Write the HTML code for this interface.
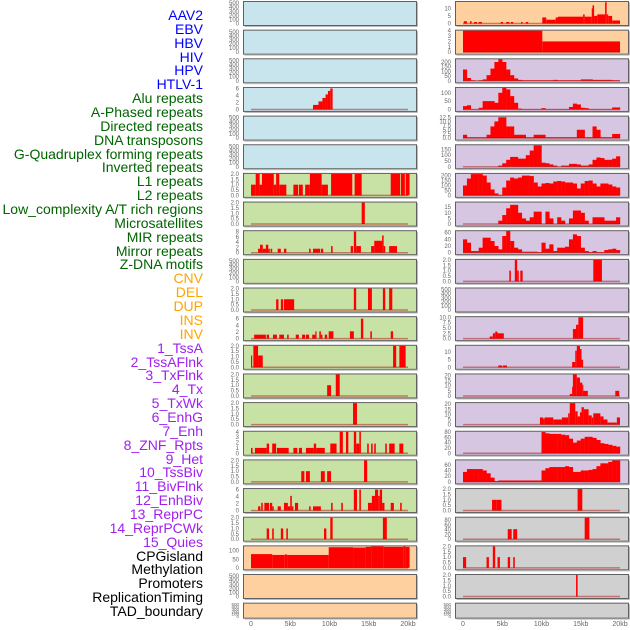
<!DOCTYPE html>
<html><head><meta charset="utf-8">
<style>
html,body{margin:0;padding:0;background:#fff;}
#wrap{position:relative;width:630px;height:630px;overflow:hidden;font-family:"Liberation Sans",sans-serif;}
.lbl{position:absolute;right:427px;font-size:14px;line-height:14px;white-space:nowrap;}
svg{position:absolute;left:0;top:0;}
</style></head>
<body>
<div id="wrap">
<div id="labels"></div>
<svg id="chart" width="630" height="630"></svg>
</div>
<script>
// ---- feature labels ----
const labelNames = ["AAV2","EBV","HBV","HIV","HPV","HTLV-1","Alu repeats","A-Phased repeats","Directed repeats","DNA transposons","G-Quadruplex forming repeats","Inverted repeats","L1 repeats","L2 repeats","Low_complexity A/T rich regions","Microsatellites","MIR repeats","Mirror repeats","Z-DNA motifs","CNV","DEL","DUP","INS","INV","1_TssA","2_TssAFlnk","3_TxFlnk","4_Tx","5_TxWk","6_EnhG","7_Enh","8_ZNF_Rpts","9_Het","10_TssBiv","11_BivFlnk","12_EnhBiv","13_ReprPC","14_ReprPCWk","15_Quies","CPGisland","Methylation","Promoters","ReplicationTiming","TAD_boundary"];
const labelGroups = [6,13,5,15,5];
const groupColors = ["#0000ff","#006400","#ffa500","#a020f0","#000000"];

// ---- x axis ----
const xTicks = [0,5,10,15,20];
const xTickLabels = ["0","5kb","10kb","15kb","20kb"];

// ---- tick label sets ----
const ticksEmpty = [0,100,200,300,400,500];
const ticks2 = [0,0.5,1,1.5,2];
const ticks2lbl = ["0.0","0.5","1.0","1.5","2.0"];

// ---- left column series: segments [startKb, endKb, value] ----
const L3_alu = [[7.9,8.6,1.3],[8.6,9.1,2.3],[9.1,9.5,3.3],[9.5,9.8,4.3],[9.8,10.1,5.3],[10.1,10.4,6]];
const L6_l1 = [[0,0.6,1],[0.6,1.1,2],[1.1,1.4,1],[1.4,2.9,2],[2.9,3.2,1],[3.2,3.6,2],[3.6,4.5,1],[5.4,6.0,1],[6.1,6.6,1],[6.9,7.5,1],[7.5,9.0,2],[9.0,9.8,1],[10.2,12.9,2],[13.2,14.1,2],[17.8,19.0,2],[19.1,19.6,2],[19.7,20.2,2]];
const L7_seg = [[14.1,14.5,2]];
const L8_seg = [[0.9,1.15,1.5],[1.15,1.5,3],[1.5,1.9,1.5],[1.9,2.2,3],[2.2,2.4,1.5],[2.5,2.7,1.5],[3.4,3.8,1.5],[4.2,4.5,1.5],[7.4,7.6,1.5],[7.9,8.8,1.5],[8.9,9.2,1.5],[10.2,10.4,2.5],[12.7,13.0,2.5],[13.1,13.4,8],[13.4,14.0,2.5],[15.3,15.7,2.5],[15.7,16.7,4.5],[16.7,16.9,6.5],[16.9,17.1,2.5],[17.6,18.6,2.5]];
const L10_seg = [[3.2,3.5,1],[3.8,4.1,1],[4.2,5.5,1],[13.1,13.4,2],[14.9,15.4,2],[16.8,17.1,2],[17.6,18.0,2]];
const L11_seg = [[0.4,1.9,1.2],[2.0,2.3,1.2],[2.8,3.3,1.2],[3.6,4.2,1.2],[4.6,4.8,1.2],[5.7,6.1,1.2],[6.5,6.9,1.2],[7.0,7.4,1.2],[7.8,8.2,1.2],[8.2,8.35,2.2],[8.7,8.9,2.2],[8.9,9.1,1.2],[9.4,9.7,1.2],[9.9,10.5,2.2],[12.6,13.1,2.2],[14.0,14.3,6],[15.2,15.4,2.2],[17.8,18.1,2.2]];
const L12_seg = [[0,0.15,1.1],[0.3,0.9,2],[0.9,1.5,1.1],[18.1,18.5,2],[18.9,19.7,2]];
const L13_seg = [[9.7,10.2,1],[10.8,11.3,2]];
const L14_seg = [[13.0,13.5,2]];
const L15_seg = [[0,0.2,1],[0.5,2.0,1],[2.0,2.3,1.8],[2.7,3.2,1.8],[3.3,4.8,1],[5.4,5.9,1],[6.1,6.5,1],[7.0,8.0,1],[8.0,8.3,1.8],[8.3,9.4,1],[10.1,10.9,1.8],[11.3,11.7,4],[12.1,12.4,4],[13.1,13.4,4],[13.4,13.8,1.8],[13.8,14.0,4],[14.8,15.0,1.8],[15.3,15.5,1.8],[15.7,15.9,1.8],[17.1,17.3,1.8],[17.6,18.3,1.8],[18.9,19.4,1.8]];
const L16_seg = [[6.4,6.8,1],[7.0,7.5,1],[8.9,9.4,1],[9.7,10.2,1],[14.4,14.8,2]];
const L17_seg = [[0.9,1.2,1.2],[1.3,1.5,2.2],[1.7,2.3,2.2],[2.4,2.7,2.2],[2.7,2.9,1.2],[3.4,3.8,1.2],[4.2,4.7,2.2],[4.7,5.0,1.2],[5.0,5.2,4.2],[5.2,5.4,1.2],[5.6,6.0,2.2],[7.4,7.6,1.2],[7.9,8.9,1.2],[10.2,10.4,2.2],[11.5,11.7,2.2],[13.1,13.5,6],[13.8,14.0,6],[14.9,15.4,2.2],[15.4,15.8,4.2],[15.8,16.2,6],[16.2,16.4,4.2],[16.4,16.7,6],[16.7,17.0,2.2],[17.8,18.2,2.2],[19.0,19.2,2.2]];
const L18_seg = [[2.0,2.3,1],[2.7,2.9,1],[3.8,4.1,1],[4.5,4.7,1],[9.3,9.6,1],[10.1,10.4,2],[16.8,17.3,2]];
const L19_cpg = [[0,2.7,80],[2.7,4.3,75],[4.3,4.6,78],[4.6,9.9,75],[9.9,13.0,120],[13.0,14.6,118],[14.6,15.3,122],[15.3,16.9,125],[16.9,19.4,122],[19.4,19.7,125],[19.7,20.2,122]];

// ---- right column series ----
const R0_seg = [[0.1,0.5,1.5],[0.9,1.1,1.5],[1.4,1.8,1],[2.0,2.4,1],[4.8,5.1,1],[5.5,5.9,1],[6.1,6.4,1],[7.4,7.6,1],[8.0,8.3,1],[10.1,10.6,4],[10.6,11.8,2.5],[11.8,12.1,4],[12.1,15.3,4.5],[15.3,15.5,6],[15.5,16.4,4.5],[16.4,16.5,10],[16.5,16.7,12],[16.7,17.1,5],[17.1,18.1,6],[18.1,18.3,14],[18.3,18.5,6],[18.5,19.0,5],[19.0,20.0,2]];
const R1_seg = [[0,10.1,4],[10.1,20,2]];
const R2_bins = [120,30,5,0,5,15,60,130,200,230,200,120,60,25,10,5,5,5,5,5,5,5,5,10,5,5,5,5,5,5,15,15,15,10,10,10,10,10,5,5];
const R3_bins = [20,25,2,2,10,50,50,50,40,100,130,120,80,40,5,2,2,2,2,2,8,2,2,2,2,2,2,15,35,30,10,8,2,2,2,2,2,2,12,12];
const R4_bins = [2,0.5,0.5,0.5,0.5,0.5,2,7,10,12.5,12.5,7,7,2,2,2,0.5,0.5,2,2,2,0.5,0.5,0.5,0.5,0.5,0.5,0.5,0.5,5,5,0.5,0.5,7,5,0.5,0.5,0.5,2.5,2.5];
const R5_bins = [0,0,0,0,0,0,0,0,0,10,30,60,85,85,70,70,100,140,185,185,35,30,20,10,0,10,10,25,25,20,10,10,20,60,80,75,60,60,70,90];
const R6_bins = [100,170,215,215,215,200,130,60,20,5,80,150,180,170,180,200,200,195,130,90,120,125,120,140,145,140,130,130,120,70,120,145,150,120,90,120,120,110,90,80];
const R7_bins = [0,0,0,0,0,0,0,0,0,3,8,14,17,17,10,5,3,6,11,11,0,11,5,0,6,3,0,5,12,12,10,3,0,6,6,6,3,3,3,6];
const R8_bins = [40,30,5,5,15,45,45,35,20,10,50,65,35,15,10,3,3,3,3,2,30,12,25,5,15,15,18,40,55,50,15,5,2,5,2,2,8,10,12,8];
const R9_seg = [[5.9,6.1,1],[6.6,6.9,2],[6.9,7.1,1],[7.3,7.6,1],[16.6,17.7,2]];
const R11_seg = [[3.4,3.8,1],[3.8,4.1,2.5],[4.1,4.4,3.3],[4.4,5.2,2.5],[14.0,14.4,4.5],[14.4,14.7,6.5],[14.7,15.3,10]];
const R12_seg = [[4.5,5.0,1.2],[5.1,5.6,1.2],[13.9,14.3,3.5],[14.3,14.5,11],[14.5,14.9,14],[14.9,15.1,12],[15.1,15.3,5]];
const R13_seg = [[13.6,13.9,2],[13.9,14.0,9],[14.0,14.5,21],[14.5,14.9,18],[14.9,15.2,13],[15.2,15.3,11],[15.3,15.9,5],[19.4,19.9,5]];
const R14_seg = [[9.8,10.2,7],[10.2,10.4,6],[10.4,11.5,7],[11.5,12.6,5],[12.6,13.4,7],[13.4,13.6,11],[13.6,14.3,21],[14.3,14.6,13],[14.6,14.9,8],[14.9,15.1,12],[15.1,15.4,17],[15.4,16.0,15],[16.0,16.4,9],[16.4,16.6,7],[16.6,17.5,11],[17.5,17.9,8],[17.9,18.4,5],[18.4,19.6,2],[19.6,20.0,7]];
const R15_bins = [0,0,0,0,0,0,0,0,0,0,0,0,0,0,0,0,0,0,0,0,80,75,73,73,73,70,68,55,40,48,55,62,62,58,50,38,35,32,28,25];
const R16_bins = [35,45,45,45,45,40,30,15,3,5,5,5,5,5,5,5,5,5,5,5,40,48,52,52,52,52,55,52,35,35,40,40,42,45,55,65,65,70,75,75];
const R17_seg = [[3.7,4.3,1],[4.3,4.9,1],[14.6,15.2,2]];
const R18_seg = [[5.7,6.2,42],[6.4,6.9,42],[15.5,16.1,90]];
const R19_seg = [[0,0.4,1],[3.0,3.3,1],[3.8,4.1,2],[4.4,4.7,1],[5.7,6.0,1],[6.4,6.6,1]];
const R20_seg = [[14.4,14.6,2]];

const BLUE="#c8e4ec",GREEN="#c8e2a6",ORANGE="#fed0a0",PURPLE="#d6c6e2",GRAY="#d0d0d0";
const empty=[];
// layout: [column, row, background, ymax, tick values, tick labels, series, series type]
const layout = [
 [0,0,BLUE,540,ticksEmpty,null,empty,"seg"],[0,1,BLUE,540,ticksEmpty,null,empty,"seg"],[0,2,BLUE,540,ticksEmpty,null,empty,"seg"],
 [0,3,BLUE,6.3,[0,2,4,6],null,L3_alu,"seg"],[0,4,BLUE,540,ticksEmpty,null,empty,"seg"],[0,5,BLUE,540,ticksEmpty,null,empty,"seg"],
 [0,6,GREEN,2.05,ticks2,ticks2lbl,L6_l1,"seg"],[0,7,GREEN,2.05,ticks2,ticks2lbl,L7_seg,"seg"],[0,8,GREEN,8.3,[0,2,4,6,8],null,L8_seg,"seg"],
 [0,9,GREEN,540,ticksEmpty,null,empty,"seg"],[0,10,GREEN,2.05,ticks2,ticks2lbl,L10_seg,"seg"],[0,11,GREEN,6.6,[0,2,4,6],null,L11_seg,"seg"],
 [0,12,GREEN,2.05,ticks2,ticks2lbl,L12_seg,"seg"],[0,13,GREEN,2.05,ticks2,ticks2lbl,L13_seg,"seg"],[0,14,GREEN,2.05,ticks2,ticks2lbl,L14_seg,"seg"],
 [0,15,GREEN,4.1,[0,1,2,3,4],null,L15_seg,"seg"],[0,16,GREEN,2.05,ticks2,ticks2lbl,L16_seg,"seg"],[0,17,GREEN,6.3,[0,2,4,6],null,L17_seg,"seg"],
 [0,18,GREEN,2.05,ticks2,ticks2lbl,L18_seg,"seg"],[0,19,ORANGE,128,[0,50,100],null,L19_cpg,"seg"],[0,20,ORANGE,540,ticksEmpty,null,empty,"seg"],[0,21,ORANGE,540,ticksEmpty,null,empty,"seg"],
 [1,0,ORANGE,14.5,[0,5,10],null,R0_seg,"seg"],[1,1,ORANGE,4.1,[0,1,2,3,4],null,R1_seg,"seg"],[1,2,PURPLE,234,[0,50,100,150,200],null,R2_bins,"bin"],
 [1,3,PURPLE,132,[0,50,100],null,R3_bins,"bin"],[1,4,PURPLE,13.2,[0,2.5,5,7.5,10,12.5],["0.0","2.5","5.0","7.5","10.0","12.5"],R4_bins,"bin"],
 [1,5,PURPLE,190,[0,50,100,150],null,R5_bins,"bin"],[1,6,PURPLE,222,[0,50,100,150,200],null,R6_bins,"bin"],[1,7,PURPLE,19.5,[0,5,10,15],null,R7_bins,"bin"],
 [1,8,PURPLE,66,[0,20,40,60],null,R8_bins,"bin"],[1,9,PURPLE,2.05,ticks2,ticks2lbl,R9_seg,"seg"],[1,10,PURPLE,540,ticksEmpty,null,empty,"seg"],
 [1,11,PURPLE,10.3,[0,2.5,5,7.5,10],["0.0","2.5","5.0","7.5","10.0"],R11_seg,"seg"],[1,12,PURPLE,14.5,[0,5,10],null,R12_seg,"seg"],
 [1,13,PURPLE,21.5,[0,5,10,15,20],null,R13_seg,"seg"],[1,14,PURPLE,21.5,[0,5,10,15,20],null,R14_seg,"seg"],[1,15,PURPLE,83,[0,20,40,60,80],null,R15_bins,"bin"],
 [1,16,PURPLE,77,[0,20,40,60],null,R16_bins,"bin"],[1,17,GRAY,2.05,ticks2,ticks2lbl,R17_seg,"seg"],[1,18,GRAY,92,[0,20,40,60,80],null,R18_seg,"seg"],
 [1,19,GRAY,2.05,ticks2,ticks2lbl,R19_seg,"seg"],[1,20,GRAY,2.05,ticks2,ticks2lbl,R20_seg,"seg"],[1,21,GRAY,540,ticksEmpty,null,empty,"seg"]
];

// ---- labels ----
const labDiv=document.getElementById('labels');
let gi=0,cnt=0;
labelNames.forEach((n,k)=>{
  if(cnt>=labelGroups[gi]){gi++;cnt=0;}
  cnt++;
  const d=document.createElement('div');
  d.className='lbl';
  d.style.top=(8+k*13.86)+'px';
  d.style.color=groupColors[gi];
  d.textContent=n;
  
  
  labDiv.appendChild(d);
});

// ---- panels ----
const NS="http://www.w3.org/2000/svg";
const svg=document.getElementById('chart');
function el(tag,attrs,parent){const e=document.createElementNS(NS,tag);for(const k in attrs)e.setAttribute(k,attrs[k]);(parent||svg).appendChild(e);return e;}
const colX=[243,455], panelW=173, ppk=7.85;
function rowTop(r){return 1+r*28.65;}
function rowH(r){return r===21?15:24;}
function fmt(v){return String(v);}

layout.forEach(p=>{
  const [c,r,bg,ymax,tv,tl,series,type]=p;
  const x0=colX[c], top=rowTop(r), h=rowH(r), bottom=top+h-1.5;
  const xs=kb=>x0+8+kb*ppk;
  const ys=v=>bottom-(v/ymax)*(h-2);
  const g=el('g',{});
  
  
  const rect=el('rect',{x:x0+0.5,y:top+0.5,width:panelW,height:h,fill:bg,stroke:'#606060','stroke-width':1},g);
  
  
  el('line',{x1:x0+panelW+1.5,y1:top+1.5,x2:x0+panelW+1.5,y2:top+h+1.5,stroke:'#bbb','stroke-width':1},g);
  el('line',{x1:x0+1.5,y1:top+h+1.5,x2:x0+panelW+1.5,y2:top+h+1.5,stroke:'#bbb','stroke-width':1},g);
  // ticks
  tv.forEach((v,i)=>{
    const t=el('text',{x:x0-4,y:ys(v)+2,'font-size':(r===21?4.5:6),fill:'#666','text-anchor':'end','font-family':'Liberation Sans, sans-serif'},g);
    t.textContent=tl?tl[i]:fmt(v);
    
    
  });
  // bars
  if(type==="seg"){
    series.forEach(s=>{
      const b=el('rect',{x:xs(s[0]),y:ys(s[2]),width:Math.max(1,xs(s[1])-xs(s[0])),height:ys(0)-ys(s[2]),fill:'#ff0000'},g);
      
      
    });
  } else {
    series.forEach((v,i)=>{
      if(v<=0)return;
      const b=el('rect',{x:xs(i*0.5),y:ys(v),width:xs(0.5)-xs(0)+0.2,height:ys(0)-ys(v),fill:'#ff0000'},g);
      
      
    });
  }
  // baseline
  if(series.length){
    const bl=el('line',{x1:xs(0),y1:ys(0),x2:xs(20),y2:ys(0),stroke:'rgba(170,0,0,0.45)','stroke-width':1.5},g);
    
    
  }
});

// ---- x axis labels ----
[0,1].forEach(c=>{
  xTicks.forEach((v,i)=>{
    const t=el('text',{x:colX[c]+8+v*ppk,y:626,'font-size':7,fill:'#666','text-anchor':'middle','font-family':'Liberation Sans, sans-serif'});
    t.textContent=xTickLabels[i];
    
    
  });
});
</script>
</body></html>
